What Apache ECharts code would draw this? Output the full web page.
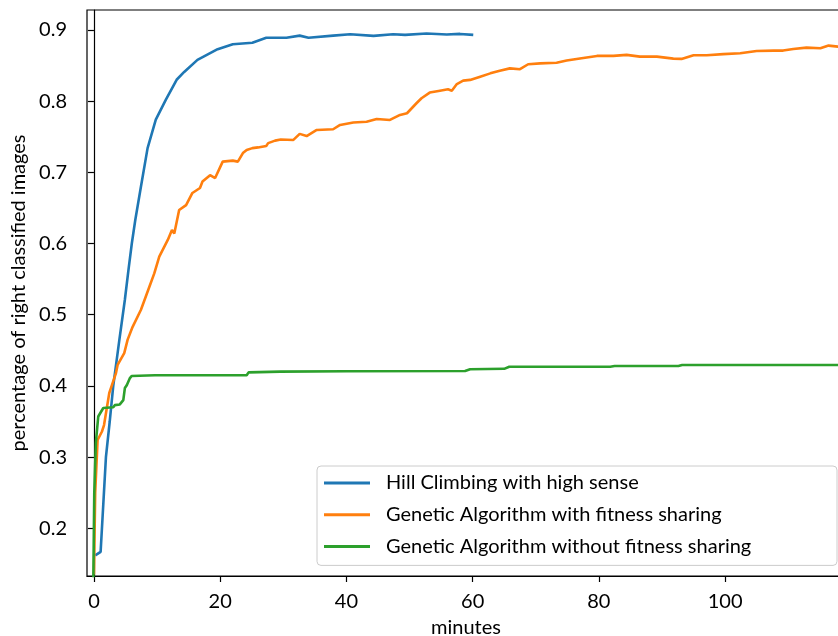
<!DOCTYPE html>
<html>
<head>
<meta charset="utf-8">
<script src="https://cdn.jsdelivr.net/npm/echarts@6/dist/echarts.min.js"></script>
<style>
    html, body { margin: 0; padding: 0; background: #fff; }
    #chart { width: 838px; height: 636px; }
</style>
</head>
<body>
<div id="chart"></div>
<script>
// values, x in minutes
const hillX = [0.2, 1.06, 1.9, 2.5, 3.06, 4.0, 4.9, 5.5, 6.0, 6.55, 7.45, 8.5, 9.8, 11.4, 13.1, 14.3, 16.4, 19.6, 22.0, 25.1, 27.3, 30.5, 32.6, 34.0, 37.9, 40.6, 44.3, 47.4, 49.3, 52.7, 55.9, 58.0, 60.1];
const hillY = [0.162, 0.167, 0.30, 0.35, 0.40, 0.463, 0.521, 0.565, 0.600, 0.633, 0.68, 0.734, 0.774, 0.802, 0.83, 0.841, 0.858, 0.873, 0.880, 0.882, 0.889, 0.889, 0.892, 0.889, 0.892, 0.894, 0.8916, 0.894, 0.893, 0.895, 0.8935, 0.8944, 0.893];

const gaShareX = [0, 0.2, 0.58, 1.27, 1.6, 2.17, 2.43, 2.85, 3.49, 3.75, 4.0, 4.8, 5.34, 6.13, 7.45, 8.77, 9.56, 10.35, 11.7, 12.36, 12.73, 13.5, 14.6, 15.6, 16.8, 17.2, 18.4, 19.2, 20.4, 22.0, 22.8, 23.6, 24.2, 25.1, 26.0, 27.3, 27.6, 28.7, 29.6, 31.6, 32.6, 33.7, 35.3, 37.9, 39.0, 41.1, 43.2, 44.8, 46.9, 48.5, 49.6, 51.1, 51.9, 53.2, 54.6, 56.1, 56.7, 57.5, 58.5, 59.6, 61.2, 62.8, 64.3, 65.9, 67.5, 68.8, 70.7, 73.3, 74.9, 77.0, 79.7, 82.3, 84.4, 86.5, 89.2, 91.8, 93.1, 95.0, 97.1, 99.7, 102.4, 105.0, 107.7, 109.2, 110.8, 112.9, 115.1, 116.4, 117.9, 119.2];
const gaShareY = [0.135, 0.25, 0.324, 0.336, 0.345, 0.376, 0.39, 0.401, 0.418, 0.4295, 0.432, 0.446, 0.465, 0.483, 0.507, 0.539, 0.558, 0.5815, 0.605, 0.619, 0.614, 0.647, 0.654, 0.671, 0.678, 0.687, 0.696, 0.692, 0.715, 0.7164, 0.715, 0.727, 0.7314, 0.734, 0.735, 0.737, 0.741, 0.7445, 0.746, 0.7455, 0.754, 0.751, 0.7595, 0.7605, 0.7666, 0.770, 0.771, 0.775, 0.7736, 0.7806, 0.783, 0.797, 0.804, 0.812, 0.8143, 0.8167, 0.8147, 0.824, 0.8288, 0.8298, 0.8344, 0.839, 0.8428, 0.846, 0.8448, 0.8518, 0.853, 0.854, 0.857, 0.860, 0.8635, 0.8635, 0.865, 0.8625, 0.8625, 0.8597, 0.8593, 0.8644, 0.8644, 0.866, 0.8673, 0.8705, 0.871, 0.871, 0.8733, 0.8751, 0.8743, 0.878, 0.8766, 0.876];

const gaX = [-0.1, 0.05, 0.3, 0.68, 1.48, 3.06, 3.3, 4.1, 4.65, 4.9, 5.2, 5.7, 5.97, 9.67, 24.2, 24.5, 29.5, 40, 58.8, 59.6, 65.0, 65.8, 81.8, 82.5, 92.6, 93.2, 119.2];
const gaY = [0.125, 0.249, 0.32, 0.357, 0.369, 0.370, 0.373, 0.374, 0.38, 0.397, 0.401, 0.411, 0.414, 0.415, 0.415, 0.419, 0.420, 0.4205, 0.421, 0.4235, 0.424, 0.427, 0.427, 0.428, 0.428, 0.4294, 0.4294];

const seriesNames = ['Hill Climbing with high sense', 'Genetic Algorithm with fitness sharing', 'Genetic Algorithm without fitness sharing'];
const xTicks = [0, 20, 40, 60, 80, 100];
const yTicks = [0.2, 0.3, 0.4, 0.5, 0.6, 0.7, 0.8, 0.9];

const FONT = 'Lato';
const FS = 20;

function pairs(xs, ys) {
    return xs.map((x, i) => [x, ys[i]]);
}

function lineSeries(name, xs, ys, color) {
    return {
        name: name,
        type: 'line',
        data: pairs(xs, ys),
        symbol: 'none',
        clip: true,
        color: color,
        lineStyle: { width: 2.6, color: color },
    };
}

let chart = echarts.init(document.getElementById('chart'));
let option = {
    animation: false,
    backgroundColor: '#fff',
    textStyle: { fontFamily: FONT },
    grid: {
        left: 87,
        top: 10,
        width: 758,
        height: 566,
        outerBoundsMode: 'none',
        containLabel: false,
        show: true,
        borderColor: '#000',
        borderWidth: 1.2,
    },
    legend: {
        orient: 'vertical',
        left: 317,
        top: 466,
        padding: [7, 11, 9, 7],
        icon: 'rect',
        itemWidth: 46,
        itemHeight: 3,
        itemGap: 11.7,
        borderColor: '#cccccc',
        borderWidth: 1,
        borderRadius: 4,
        backgroundColor: 'rgba(255,255,255,0.8)',
        textStyle: {
            fontFamily: FONT,
            fontSize: FS,
            color: '#000',
            lineHeight: 20,
            width: 440,
            padding: [0, 0, 0, 11],
        },
        data: seriesNames,
    },
    xAxis: {
        type: 'value',
        min: -1.1,
        max: 119.0,
        name: 'minutes',
        nameLocation: 'middle',
        nameGap: 42,
        nameTextStyle: { fontFamily: FONT, fontSize: FS, color: '#000' },
        axisLine: { lineStyle: { color: '#000', width: 1.2 } },
        axisTick: { show: true, length: 6, customValues: xTicks, lineStyle: { color: '#000', width: 1.2 } },
        axisLabel: { customValues: xTicks, margin: 16, fontFamily: FONT, fontSize: FS, color: '#000' },
        splitLine: { show: false },
    },
    yAxis: {
        type: 'value',
        min: 0.133,
        max: 0.928,
        name: 'percentage of right classified images',
        nameLocation: 'middle',
        nameRotate: 90,
        nameGap: 53,
        nameTextStyle: { fontFamily: FONT, fontSize: FS, color: '#000' },
        axisLine: { show: true, lineStyle: { color: '#000', width: 1.2 } },
        axisTick: { show: true, length: 6, customValues: yTicks, lineStyle: { color: '#000', width: 1.2 } },
        axisLabel: {
            customValues: yTicks,
            margin: 20,
            fontFamily: FONT,
            fontSize: FS,
            color: '#000',
            formatter: (v) => v.toFixed(1),
        },
        splitLine: { show: false },
    },
    series: [
        lineSeries(seriesNames[0], hillX, hillY, '#1f77b4'),
        lineSeries(seriesNames[1], gaShareX, gaShareY, '#ff7f0e'),
        lineSeries(seriesNames[2], gaX, gaY, '#2ca02c'),
    ],
};
chart.setOption(option);
</script>
</body>
</html>
